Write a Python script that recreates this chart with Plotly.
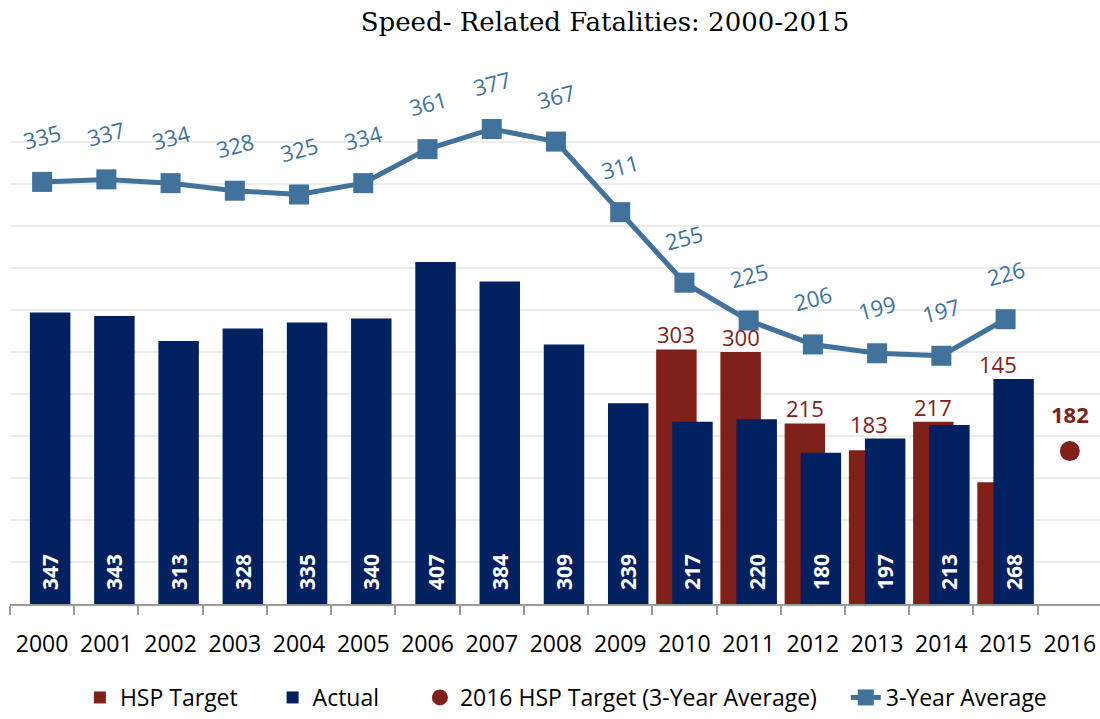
import plotly.graph_objects as go

# ---- data ----
years = [str(y) for y in range(2000, 2017)]
actual_years = [str(y) for y in range(2000, 2016)]
actual = [347, 343, 313, 328, 335, 340, 407, 384, 309, 239, 217, 220, 180, 197, 213, 268]
target_years = ["2010", "2011", "2012", "2013", "2014", "2015"]
target = [303, 300, 215, 183, 217, 145]
avg_years = [str(y) for y in range(2000, 2016)]
avg3 = [335, 337, 334, 328, 325, 334, 361, 377, 367, 311, 255, 225, 206, 199, 197, 226]
target2016_years = ["2016"]
target2016 = [182]

RED = "#7F2119"
NAVY = "#002060"
STEEL = "#41729C"
FONT = "Open Sans"
SP = "\u00a0"

fig = go.Figure()

fig.add_trace(go.Bar(
    x=target_years, y=target, name="HSP Target" + SP * 5,
    marker=dict(color=RED, line=dict(width=0)),
    width=0.63, offset=-0.44, legendrank=1,
))
fig.add_trace(go.Bar(
    x=actual_years, y=actual, name="Actual" + SP * 6,
    marker=dict(color=NAVY, line=dict(width=0)),
    width=0.63, offset=-0.19, legendrank=2,
    texttemplate=SP * 2 + "%{y}", textposition="inside", insidetextanchor="start",
    textangle=-90, constraintext="none",
    textfont=dict(color="white", size=21, family=FONT, weight="bold"),
))
fig.add_trace(go.Scatter(
    x=target2016_years, y=target2016, name="2016 HSP Target (3-Year Average)" + SP * 4,
    mode="markers", marker=dict(color=RED, size=20, symbol="circle"),
    legendrank=3,
))
fig.add_trace(go.Scatter(
    x=avg_years, y=avg3, name="3-Year Average", yaxis="y2",
    mode="lines+markers",
    line=dict(color=STEEL, width=5),
    marker=dict(color=STEEL, size=20, symbol="square"),
    legendrank=4,
))

actual_by_year = dict(zip(actual_years, actual))

annotations = []
for x, v in zip(avg_years, avg3):
    annotations.append(dict(
        x=years.index(x), y=v, xref="x", yref="y2", text=str(v), showarrow=False,
        yshift=46, textangle=-15,
        font=dict(color=STEEL, size=22, family=FONT),
    ))
for x, v in zip(target_years, target):
    # label sits above the taller of the two bars in that year
    annotations.append(dict(
        x=years.index(x), y=max(v, actual_by_year.get(x, 0)), xref="x", yref="y",
        text=str(v), showarrow=False,
        xshift=-8, yshift=15,
        font=dict(color=RED, size=22, family=FONT),
    ))
for x, v in zip(target2016_years, target2016):
    annotations.append(dict(
        x=years.index(x), y=v, xref="x", yref="y", text="<b>%d</b>" % v, showarrow=False,
        yshift=37,
        font=dict(color=RED, size=22, family=FONT),
    ))

fig.update_layout(
    width=1100, height=719,
    margin=dict(l=10, r=0, t=100, b=107),
    paper_bgcolor="white", plot_bgcolor="white",
    barmode="overlay",
    title=dict(
        text="Speed- Related Fatalities: 2000-2015",
        x=605 / 1100, xanchor="center", xref="container",
        y=1 - 22 / 719, yanchor="middle", yref="container",
        font=dict(family="DejaVu Serif", size=26, color="black"),
    ),
    xaxis=dict(
        type="category", categoryorder="array", categoryarray=years,
        range=[-0.5, 16.47],
        showline=True, linecolor="#9A9A9A", linewidth=2,
        ticks="outside", tickson="boundaries", ticklen=9, tickwidth=2, tickcolor="#9A9A9A",
        tickfont=dict(family=FONT, size=23, color="black"),
        ticklabelstandoff=18,
        showgrid=False, zeroline=False,
    ),
    yaxis=dict(
        range=[0, 600], dtick=50, showticklabels=False,
        showgrid=True, gridcolor="#ECECEC", gridwidth=2,
        zeroline=False, showline=False, ticks="",
    ),
    yaxis2=dict(
        range=[0, 400], overlaying="y", side="right",
        showticklabels=False, showgrid=False, zeroline=False, showline=False, ticks="",
    ),
    legend=dict(
        orientation="h", x=0.51, xanchor="center", y=-0.186, yanchor="middle",
        font=dict(family=FONT, size=23, color="black"),
        traceorder="normal",
    ),
    annotations=annotations,
    showlegend=True,
)

fig.write_html(
    "out.html",
    config={"displayModeBar": False},
    post_script="document.body.style.margin='0';document.body.style.overflow='hidden';",
)
